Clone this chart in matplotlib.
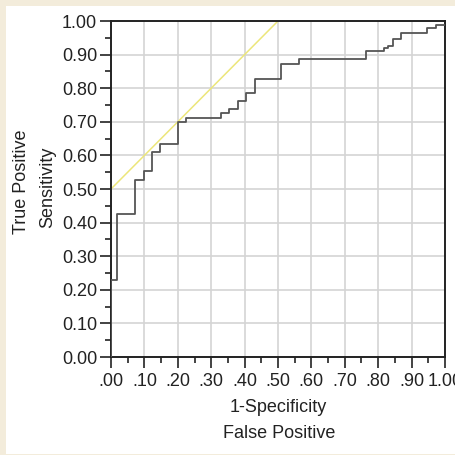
import matplotlib
matplotlib.use('Agg')
import matplotlib.pyplot as plt
from matplotlib.patches import Rectangle
from matplotlib.ticker import MultipleLocator, FuncFormatter

plt.rcParams['font.family'] = ['Liberation Sans', 'DejaVu Sans']

# ROC curve corner points (1-specificity, sensitivity)
fpr = [0.000, 0.000, 0.019, 0.071, 0.098, 0.124, 0.148, 0.200, 0.224,
       0.328, 0.352, 0.379, 0.404, 0.430, 0.508, 0.562, 0.763, 0.818,
       0.830, 0.843, 0.869, 0.945, 0.972, 1.000]
tpr = [0.000, 0.229, 0.425, 0.527, 0.553, 0.609, 0.634, 0.700, 0.710,
       0.727, 0.737, 0.762, 0.785, 0.828, 0.871, 0.886, 0.912, 0.919,
       0.926, 0.946, 0.964, 0.978, 0.988, 0.988]

# yellow tangent line
diag_x = [0.0, 0.5]
diag_y = [0.5, 1.0]

W, H = 456, 455
fig = plt.figure(figsize=(W / 100, H / 100), dpi=100)
fig.patch.set_facecolor('#f3ecdb')
fig.patches.append(Rectangle((6 / W, 1 / H), 1, 448 / H, transform=fig.transFigure,
                             facecolor='white', edgecolor='none', zorder=-5))

ax = fig.add_axes([111 / W, (H - 357) / H, 334 / W, 336 / H])
ax.set_zorder(2)
ax.set_facecolor('white')
ax.set_xlim(0, 1)
ax.set_ylim(0, 1)

ax.step(fpr, tpr, where='post', color='#555555', lw=1.3, zorder=3)
ax.plot(diag_x, diag_y, color='#ece67a', lw=1.1, zorder=2)

ax.xaxis.set_major_locator(MultipleLocator(0.1))
ax.xaxis.set_minor_locator(MultipleLocator(0.05))
ax.yaxis.set_major_locator(MultipleLocator(0.1))
ax.yaxis.set_minor_locator(MultipleLocator(0.05))

ax.xaxis.set_major_formatter(FuncFormatter(lambda v, p: '1.00' if v > 0.99 else f'{v:.2f}'[1:]))
ax.yaxis.set_major_formatter(FuncFormatter(lambda v, p: f'{v:.2f}'))

ax.grid(True, which='major', color='#d4d4d4', lw=1.2, zorder=1)
ax.set_axisbelow(True)

for s in ax.spines.values():
    s.set_linewidth(1.4)
    s.set_color('#222222')

fs = 13
ax.tick_params(which='major', length=8, width=1.2, color='#222222',
               labelsize=fs, labelcolor='#222222')
ax.tick_params(which='minor', length=4, width=1.2, color='#222222')
ax.tick_params(axis='y', which='major', pad=2)
ax.tick_params(axis='x', which='major', pad=3.5)

fig.text(278 / W, 1 - 408 / H, '1-Specificity', ha='center', va='center',
         fontsize=fs, color='#222222')
fig.text(279 / W, 1 - 434 / H, 'False Positive', ha='center', va='center',
         fontsize=fs, color='#222222')
fig.text(22 / W, 1 - 182 / H, 'True Positive', ha='center', va='center',
         rotation=90, fontsize=fs, color='#222222')
fig.text(48 / W, 1 - 187 / H, 'Sensitivity', ha='center', va='center',
         rotation=90, fontsize=fs, color='#222222')

fig.savefig('out.png', dpi=100, facecolor=fig.get_facecolor())
